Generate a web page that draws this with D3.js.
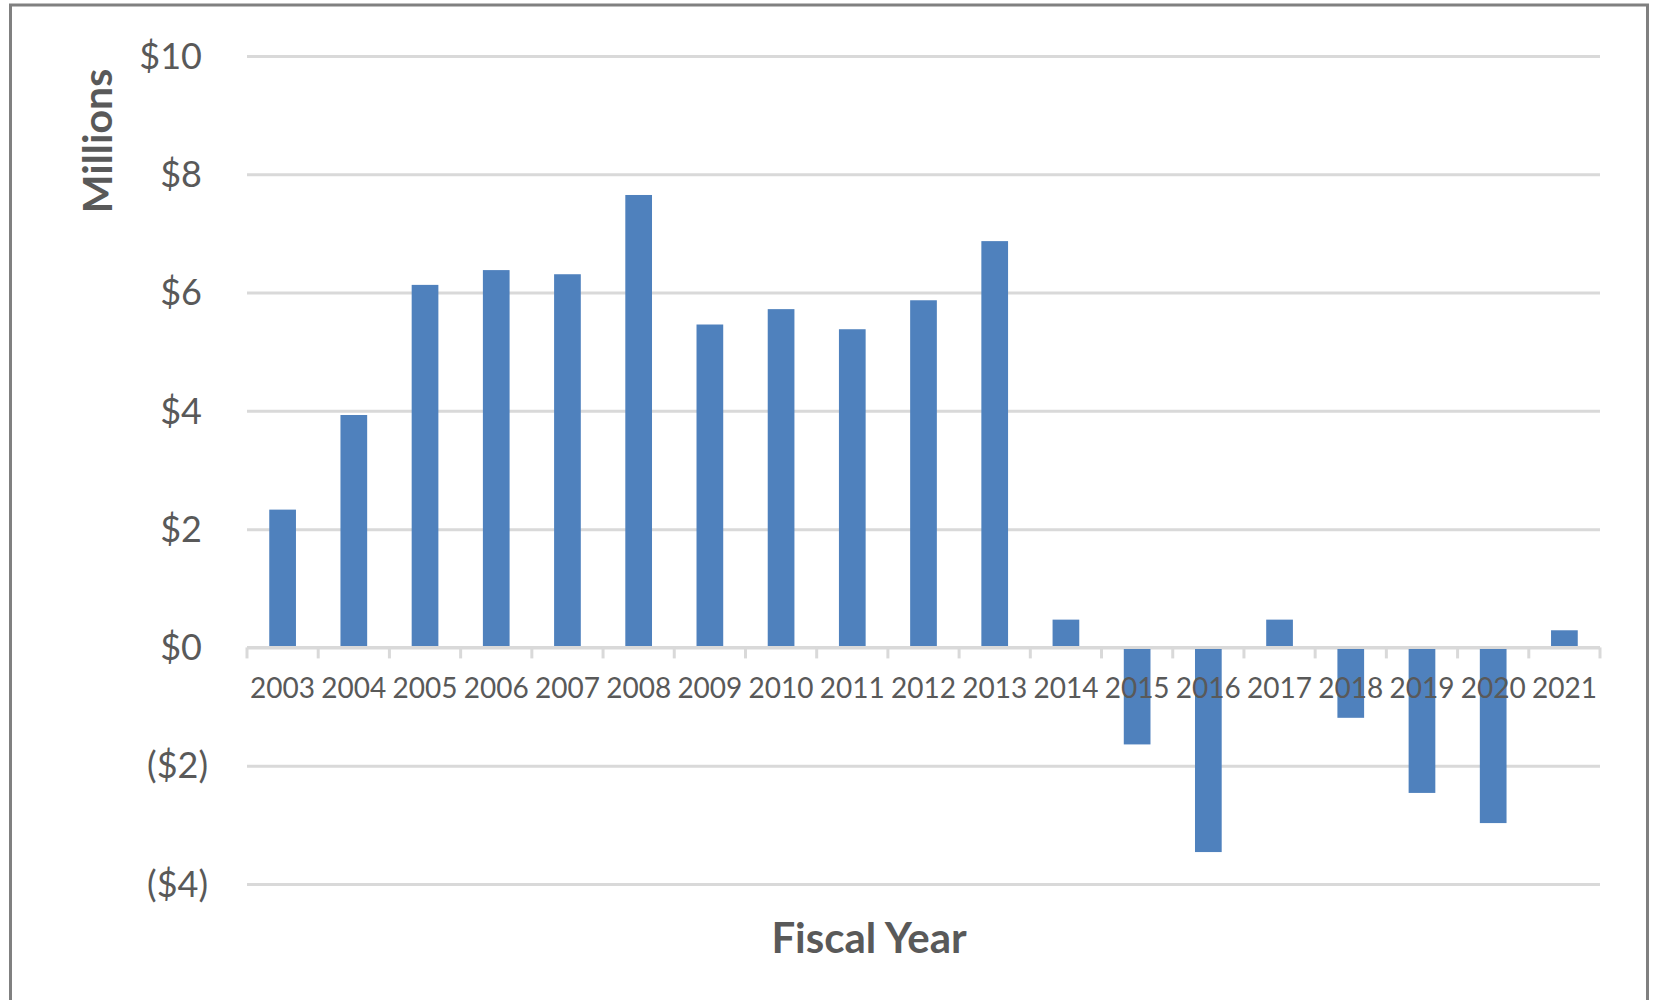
<!DOCTYPE html>
<html>
<head>
<meta charset="utf-8">
<script src="https://cdn.jsdelivr.net/npm/d3@7"></script>
<style>
  html, body { margin: 0; padding: 0; background: #ffffff; }
  svg { display: block; }
</style>
</head>
<body>
<svg id="chart"></svg>
<script>
const years = ["2003", "2004", "2005", "2006", "2007", "2008", "2009", "2010", "2011", "2012",
  "2013", "2014", "2015", "2016", "2017", "2018", "2019", "2020", "2021"];
const values = [2.33, 3.93, 6.13, 6.38, 6.31, 7.65, 5.46, 5.72, 5.38, 5.87,
  6.87, 0.47, -1.64, -3.46, 0.47, -1.19, -2.46, -2.97, 0.29];
const yTicks = [-4, -2, 0, 2, 4, 6, 8, 10];

const width = 1653;
const height = 1000;
const plot = { left: 247, right: 1600, top: 56, bottom: 884 };

const textColor = "#595959";
const gridColor = "#d9d9d9";
const barColor = "#4f81bd";
const font = "Lato, 'Open Sans', sans-serif";

const svg = d3.select("#chart")
  .attr("width", width)
  .attr("height", height);

// outer frame, bottom edge runs off the picture
svg.append("rect")
  .attr("x", 10.5)
  .attr("y", 5)
  .attr("width", 1637)
  .attr("height", 1100)
  .attr("fill", "#ffffff")
  .attr("stroke", "#808080")
  .attr("stroke-width", 3);

const x = d3.scaleBand()
  .domain(years)
  .range([plot.left, plot.right])
  .paddingInner(0.625)
  .paddingOuter(0.3125);

const y = d3.scaleLinear()
  .domain([-4, 10])
  .range([plot.bottom, plot.top]);

// gridlines
const grid = svg.append("g")
  .attr("transform", `translate(${plot.left},0)`)
  .call(d3.axisLeft(y).tickValues(yTicks).tickSize(-(plot.right - plot.left)).tickFormat(""));
grid.select(".domain").remove();
grid.selectAll(".tick line")
  .attr("stroke", gridColor)
  .attr("stroke-width", 3);

// y labels
const yAxis = svg.append("g")
  .attr("transform", `translate(${plot.left},0)`)
  .call(d3.axisLeft(y)
    .tickValues(yTicks)
    .tickSize(0)
    .tickPadding(39)
    .tickFormat((d) => (d < 0 ? `($${-d})` : `$${d}`)));
yAxis.select(".domain").remove();
yAxis.selectAll(".tick text")
  .attr("fill", textColor)
  .attr("font-family", font)
  .attr("font-size", 36)
  .attr("dy", "0.34em")
  .attr("dx", (d) => (d < 0 ? 0 : -6));

// bars
svg.append("g")
  .selectAll("rect")
  .data(years.map((year, i) => ({ year, value: values[i] })))
  .join("rect")
  .attr("x", (d) => x(d.year))
  .attr("width", x.bandwidth())
  .attr("y", (d) => y(Math.max(0, d.value)))
  .attr("height", (d) => Math.abs(y(d.value) - y(0)))
  .attr("fill", barColor);

// category axis at zero
const step = x.step();
const xAxis = svg.append("g")
  .attr("transform", `translate(0,${y(0)})`)
  .call(d3.axisBottom(x).tickSize(0).tickPadding(37));
xAxis.select(".domain")
  .attr("d", `M${plot.left},0H${plot.right}`)
  .attr("stroke", gridColor)
  .attr("stroke-width", 3);
xAxis.selectAll(".tick text")
  .attr("fill", textColor)
  .attr("font-family", font)
  .attr("font-size", 28)
  .attr("dy", "0.5em");

xAxis.append("g")
  .selectAll("line")
  .data(d3.range(years.length + 1))
  .join("line")
  .attr("x1", (i) => plot.left + i * step)
  .attr("x2", (i) => plot.left + i * step)
  .attr("y1", 0)
  .attr("y2", 11)
  .attr("stroke", gridColor)
  .attr("stroke-width", 3);

// axis titles
svg.append("text")
  .attr("transform", "translate(112,141) rotate(-90)")
  .attr("text-anchor", "middle")
  .attr("fill", textColor)
  .attr("font-family", font)
  .attr("font-weight", "bold")
  .attr("font-size", 41)
  .text("Millions");

svg.append("text")
  .attr("x", 869)
  .attr("y", 953)
  .attr("text-anchor", "middle")
  .attr("fill", textColor)
  .attr("font-family", font)
  .attr("font-weight", "bold")
  .attr("font-size", 42)
  .text("Fiscal Year");
</script>
</body>
</html>
